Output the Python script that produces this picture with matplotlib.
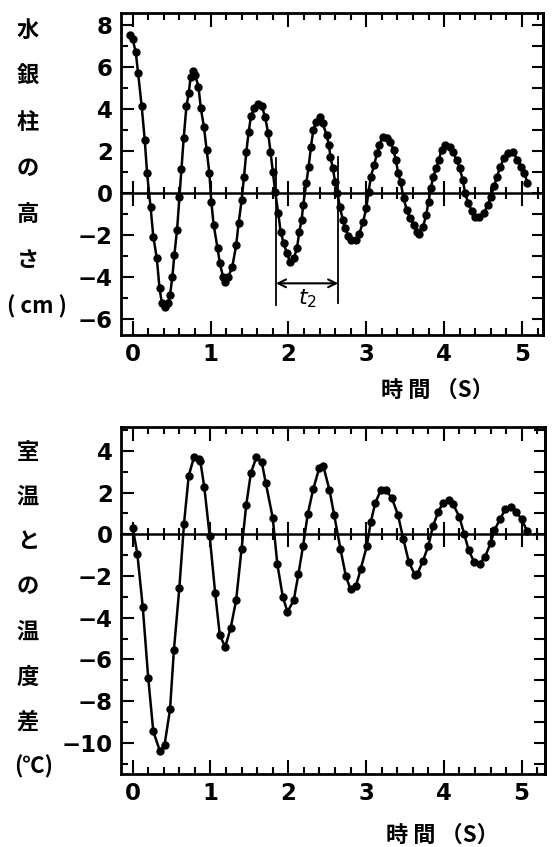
import numpy as np
import matplotlib
matplotlib.use('Agg')
import matplotlib.pyplot as plt
from matplotlib.ticker import MultipleLocator

plt.rcParams['font.family'] = ['Noto Sans CJK JP', 'DejaVu Sans']

# 水銀柱の高さ (cm)
t_hg = [-0.04, 0.00, 0.04, 0.07, 0.115, 0.155, 0.185, 0.23, 0.265, 0.31,
        0.345, 0.375, 0.41, 0.45, 0.48, 0.51, 0.535, 0.57, 0.60, 0.625,
        0.655, 0.69, 0.72, 0.745, 0.77, 0.80, 0.845, 0.875, 0.915, 0.95,
        0.985, 1.01, 1.04, 1.09, 1.12, 1.16, 1.19, 1.23, 1.28, 1.33,
        1.36, 1.40, 1.43, 1.46, 1.49, 1.52, 1.56, 1.61, 1.66, 1.70,
        1.74, 1.77, 1.80, 1.83, 1.87, 1.90, 1.94, 1.98, 2.02, 2.07,
        2.11, 2.14, 2.17, 2.19, 2.23, 2.26, 2.29, 2.32, 2.36, 2.40,
        2.44, 2.49, 2.52, 2.54, 2.57, 2.60, 2.63, 2.66, 2.70, 2.73,
        2.77, 2.81, 2.87, 2.91, 2.96, 3.00, 3.03, 3.06, 3.10, 3.14,
        3.17, 3.21, 3.26, 3.31, 3.35, 3.38, 3.41, 3.44, 3.48, 3.52,
        3.56, 3.61, 3.65, 3.68, 3.73, 3.77, 3.80, 3.83, 3.86, 3.90,
        3.93, 3.97, 4.01, 4.07, 4.11, 4.16, 4.20, 4.24, 4.27, 4.31,
        4.36, 4.40, 4.45, 4.51, 4.56, 4.60, 4.64, 4.68, 4.72, 4.77,
        4.82, 4.89, 4.94, 4.99, 5.03, 5.07]
h_hg = [7.5, 7.3, 6.67, 5.68, 4.13, 2.51, 0.92, -0.70, -2.1, -3.13,
        -4.56, -5.27, -5.46, -5.27, -4.87, -4.0, -2.97, -1.78, -0.22, 1.11,
        2.59, 4.1, 4.73, 5.52, 5.81, 5.6, 5.05, 4.02, 3.14, 2.03,
        0.92, -0.43, -1.54, -2.65, -3.37, -4.0, -4.24, -4.0, -3.52, -2.49,
        -1.46, -0.35, 0.76, 1.95, 2.9, 3.65, 4.02, 4.21, 4.1, 3.62,
        2.83, 1.95, 1.0, 0.05, -0.98, -1.86, -2.41, -2.89, -3.29, -3.13,
        -2.65, -1.86, -1.3, -0.59, 0.44, 1.24, 2.19, 2.98, 3.38, 3.59,
        3.3, 2.75, 2.27, 1.71, 1.16, 0.52, 0.0, -0.67, -1.3, -1.7,
        -2.06, -2.25, -2.25, -1.97, -1.38, -0.75, 0.05, 0.76, 1.32, 1.87,
        2.27, 2.67, 2.59, 2.43, 2.03, 1.56, 0.92, 0.52, -0.27, -0.83,
        -1.22, -1.54, -1.86, -1.97, -1.62, -1.06, -0.43, 0.21, 0.76, 1.16,
        1.56, 2.03, 2.27, 2.19, 1.95, 1.56, 1.16, 0.6, -0.03, -0.51,
        -0.9, -1.17, -1.17, -0.98, -0.59, -0.19, 0.29, 0.76, 1.24, 1.63,
        1.87, 1.92, 1.56, 1.24, 0.92, 0.48]

# 室温との温度差 (℃)
t_temp = [0.0, 0.06, 0.13, 0.20, 0.265, 0.35, 0.41, 0.48, 0.53, 0.60,
          0.66, 0.72, 0.79, 0.85, 0.87, 0.92, 0.99, 1.06, 1.12, 1.19,
          1.26, 1.33, 1.40, 1.46, 1.52, 1.59, 1.66, 1.71, 1.80, 1.86,
          1.93, 1.99, 2.07, 2.13, 2.19, 2.25, 2.32, 2.40, 2.45, 2.53,
          2.59, 2.67, 2.74, 2.80, 2.87, 2.93, 3.01, 3.06, 3.12, 3.19,
          3.25, 3.33, 3.41, 3.48, 3.55, 3.63, 3.66, 3.73, 3.80, 3.86,
          3.93, 3.99, 4.06, 4.12, 4.20, 4.26, 4.32, 4.39, 4.46, 4.53,
          4.60, 4.65, 4.72, 4.79, 4.86, 4.93, 5.00, 5.07]
d_temp = [0.32, -0.93, -3.5, -6.9, -9.45, -10.4, -10.1, -8.4, -5.56, -2.56,
          0.51, 2.8, 3.73, 3.6, 3.5, 2.29, -0.08, -2.8, -4.84, -5.4,
          -4.49, -3.16, -0.69, 1.41, 2.96, 3.69, 3.45, 2.48, 0.8, -1.44,
          -3.0, -3.72, -3.17, -1.92, -0.56, 0.96, 2.16, 3.2, 3.28, 2.12,
          0.93, -0.69, -2.0, -2.64, -2.48, -1.68, -0.56, 0.59, 1.52, 2.13,
          2.13, 1.76, 0.93, -0.24, -1.33, -1.96, -1.9, -1.28, -0.56, 0.4,
          1.09, 1.52, 1.63, 1.44, 0.83, 0.03, -0.77, -1.33, -1.41, -1.07,
          -0.43, 0.19, 0.72, 1.2, 1.31, 1.09, 0.72, 0.16]

# 周期 t2 の目印
t2_start, t2_end = 1.84, 2.64

label_top = ['水', '銀', '柱', 'の', '高', 'さ', '( cm )']
label_bottom = ['室', '温', 'と', 'の', '温', '度', '差', '(℃)']
xlabel = '時 間 （S）'

W, H = 555, 847
fig = plt.figure(figsize=(W / 100, H / 100), dpi=100)

num_font = dict(family=['DejaVu Sans'], size=16.5, weight='bold')


def setup(ax, xlim, ylim, yticks):
    ax.set_xlim(*xlim)
    ax.set_ylim(*ylim)
    for s in ax.spines.values():
        s.set_linewidth(2)
    ax.xaxis.set_major_locator(MultipleLocator(1))
    ax.xaxis.set_minor_locator(MultipleLocator(0.2))
    ax.yaxis.set_major_locator(MultipleLocator(2))
    ax.yaxis.set_minor_locator(MultipleLocator(1))
    ax.tick_params(which='both', direction='in', top=True, right=False, width=1.5)
    ax.tick_params(axis='x', which='major', length=10, pad=6)
    ax.tick_params(axis='x', which='minor', length=5)
    ax.tick_params(axis='y', which='major', length=9, pad=6)
    ax.tick_params(axis='y', which='minor', length=5)
    ax.set_yticks(yticks)
    ax.set_xticks(range(6))
    ax.set_xticklabels([str(v) for v in range(6)], **num_font)
    ax.set_yticklabels([str(v).replace('-', '\u2212') for v in yticks], **num_font)

    # ticks on the right side every 1 unit
    sy = ax.secondary_yaxis('right')
    sy.yaxis.set_major_locator(MultipleLocator(1))
    sy.tick_params(direction='in', length=8, width=1.5, labelright=False)
    sy.spines['right'].set_linewidth(2)

    # zero line with crossing ticks
    sx = ax.secondary_xaxis(0, transform=ax.transData)
    sx.xaxis.set_major_locator(MultipleLocator(1))
    sx.xaxis.set_minor_locator(MultipleLocator(0.2))
    sx.tick_params(which='major', direction='inout', length=18, width=1.5, labelbottom=False)
    sx.tick_params(which='minor', direction='inout', length=8, width=1.5)
    sx.spines['bottom'].set_linewidth(1.8)


# top panel
ax1 = fig.add_axes([121 / W, 1 - 335 / H, 422 / W, 322 / H])
ax1.plot(t_hg, h_hg, '-o', color='black', lw=1.8, ms=5)
setup(ax1, (-0.15, 5.27), (-6.78, 8.55), list(range(-6, 9, 2)))

# t2 annotation
ax1.plot([t2_start, t2_start], [1.65, -5.35], color='black', lw=1.3)
ax1.plot([t2_end, t2_end], [1.7, -5.27], color='black', lw=1.3)
ax1.annotate('', xy=(t2_start, -4.32), xytext=(t2_end, -4.32),
             arrowprops=dict(arrowstyle='<->', color='black', lw=1.5,
                             shrinkA=0, shrinkB=0, mutation_scale=14))
ax1.text((t2_start + t2_end) / 2, -5.05, '$t_2$', ha='center', va='center', fontsize=16)

# bottom panel
ax2 = fig.add_axes([121 / W, 1 - 774 / H, 424 / W, 347 / H])
ax2.plot(t_temp, d_temp, '-o', color='black', lw=1.8, ms=5)
setup(ax2, (-0.15, 5.30), (-11.5, 5.15), list(range(-10, 5, 2)))

jp_font = dict(size=16, weight='bold', ha='center', va='center')

for i, ch in enumerate(label_top):
    y = 30 + i * (307 - 30) / (len(label_top) - 1)
    x = 37 if ch.startswith('(') else 28
    fig.text(x / W, 1 - y / H, ch, **jp_font)

for i, ch in enumerate(label_bottom):
    y = 452 + i * (767 - 452) / (len(label_bottom) - 1)
    x = 34 if ch.startswith('(') else 28
    fig.text(x / W, 1 - y / H, ch, **jp_font)

fig.text(437 / W, 1 - 390 / H, xlabel, **jp_font)
fig.text(442 / W, 1 - 835 / H, xlabel, **jp_font)

fig.savefig('out.png', dpi=100)
